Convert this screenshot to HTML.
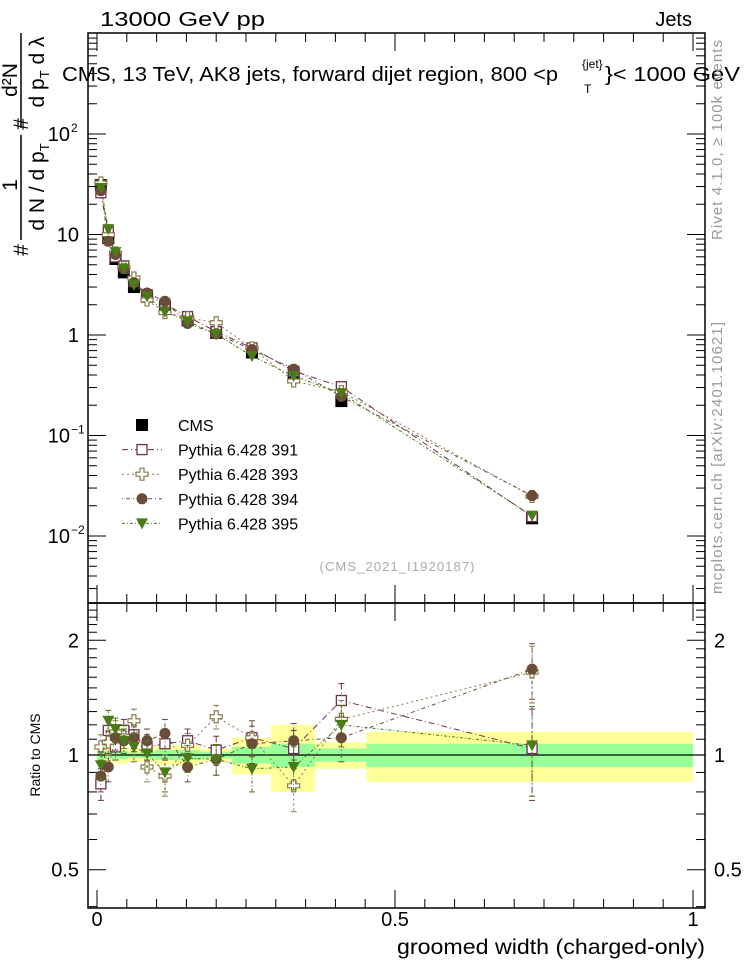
<!DOCTYPE html>
<html><head><meta charset="utf-8"><style>
body{margin:0;background:#fff;}
svg{display:block;font-family:"Liberation Sans",sans-serif;}
</style></head><body>
<svg id="c" width="746" height="972" viewBox="0 0 746 972">
<g id="bands"></g>
<g id="axes"></g>
<g id="marks"></g>
<text x="100" y="26" font-size="20" textLength="165" lengthAdjust="spacingAndGlyphs">13000 GeV pp</text>
<text x="692" y="26" font-size="20" text-anchor="end">Jets</text>
<text x="62" y="81" font-size="20" textLength="496" lengthAdjust="spacingAndGlyphs">CMS, 13 TeV, AK8 jets, forward dijet region, 800 &lt;p</text>
<text x="582" y="68" font-size="12">{jet}</text>
<text x="584" y="93" font-size="12">T</text>
<text x="605" y="81" font-size="20" textLength="135" lengthAdjust="spacingAndGlyphs">}&lt; 1000 GeV</text>
<g font-size="21">
<line x1="21" y1="33" x2="21" y2="128" stroke="#000" stroke-width="1.5"/>
<line x1="21" y1="135" x2="21" y2="240" stroke="#000" stroke-width="1.5"/>
<text transform="translate(17,80) rotate(-90)" text-anchor="middle">d²N</text>
<text transform="translate(44,72) rotate(-90)" text-anchor="middle">d p<tspan font-size="13" dy="5">T</tspan><tspan dy="-5"> d λ</tspan></text>
<text transform="translate(28,124) rotate(-90)" text-anchor="middle">#</text>
<text transform="translate(17,185) rotate(-90)" text-anchor="middle">1</text>
<text transform="translate(44,187) rotate(-90)" text-anchor="middle">d N / d p<tspan font-size="13" dy="5">T</tspan></text>
<text transform="translate(28,250) rotate(-90)" text-anchor="middle">#</text>
</g>
<text transform="translate(722,140) rotate(-90)" font-size="15" fill="#999" text-anchor="middle" textLength="200">Rivet 4.1.0, ≥ 100k events</text>
<text transform="translate(722,458) rotate(-90)" font-size="15" fill="#999" text-anchor="middle" textLength="272">mcplots.cern.ch [arXiv:2401.10621]</text>
<text x="397" y="571" font-size="13" fill="#aaa" text-anchor="middle" textLength="155">(CMS_2021_I1920187)</text>
<text transform="translate(40,755) rotate(-90)" font-size="14" text-anchor="middle">Ratio to CMS</text>
<text x="705" y="954" font-size="21" text-anchor="end" textLength="308" lengthAdjust="spacingAndGlyphs">groomed width (charged-only)</text>
<g id="legend"></g>
</svg>
<script>
const edges=[0,0.013,0.025,0.038,0.052,0.072,0.097,0.131,0.173,0.227,0.292,0.366,0.452,1];
const centers=[0.0065,0.019,0.031,0.045,0.062,0.084,0.114,0.152,0.2,0.26,0.33,0.41,0.73];
const cms=[31,9.2,5.7,4.2,3.0,2.4,1.9,1.4,1.05,0.67,0.42,0.22,0.015];
const r391=[0.84,1.16,1.05,1.16,1.13,1.05,1.07,1.09,1.03,1.11,1.04,1.39,1.04];
const r393=[1.05,1.08,1.15,1.12,1.23,0.93,0.88,1.06,1.26,1.11,0.83,1.24,1.65];
const r394=[0.88,0.93,1.11,1.09,1.11,1.09,1.14,0.93,0.975,1.07,1.09,1.11,1.68];
const r395=[0.94,1.23,1.17,1.09,1.05,1.01,0.90,0.98,0.975,0.92,0.93,1.2,1.06];
const mcErr=[0.08,0.08,0.08,0.08,0.09,0.08,0.1,0.08,0.09,0.12,0.12,0.15,0.28];
const yellow=[0.05,0.05,0.05,0.05,0.04,0.04,0.06,0.06,0.04,0.11,0.2,0.08,0.15];
const green=[0.025,0.025,0.025,0.025,0.015,0.02,0.03,0.03,0.02,0.05,0.07,0.04,0.07];
const series=[
 {name:"Pythia 6.428 391",r:r391,col:"#6e2f52",m:"sq",dash:"6,3,1,3"},
 {name:"Pythia 6.428 393",r:r393,col:"#8a7a4a",m:"cross",dash:"2,3"},
 {name:"Pythia 6.428 394",r:r394,col:"#6b4c38",m:"circ",dash:"1,3,4,3"},
 {name:"Pythia 6.428 395",r:r395,col:"#4b7a18",m:"tri",dash:"3,2,1,2"}];
const NS="http://www.w3.org/2000/svg";
const L=88,R=705,T=33,M=603,B=908;
const X=v=>97+596*v;
const Y=v=>335-100.5*Math.log10(v);
const YR=v=>755-381*Math.log10(v);
function mk(p,t,a){const e=document.createElementNS(NS,t);for(const k in a)e.setAttribute(k,a[k]);p.appendChild(e);return e;}
const ax=document.getElementById('axes'),bd=document.getElementById('bands'),mg=document.getElementById('marks'),lg=document.getElementById('legend');
for(let i=0;i<centers.length;i++){
 const x1=X(edges[i]),x2=X(edges[i+1]);
 const y=mk(bd,'rect',{x:x1,y:YR(1+yellow[i]),width:x2-x1,height:YR(1-yellow[i])-YR(1+yellow[i]),fill:'#ffff99'});
 
 const g=mk(bd,'rect',{x:x1,y:YR(1+green[i]),width:x2-x1,height:YR(1-green[i])-YR(1+green[i]),fill:'#99ff99'});
 
}
mk(bd,'line',{x1:L,x2:R,y1:YR(1),y2:YR(1),stroke:'#000','stroke-width':1.2});
mk(ax,'rect',{x:L,y:T,width:R-L,height:M-T,fill:'none',stroke:'#000','stroke-width':1.5});
mk(ax,'rect',{x:L,y:M,width:R-L,height:B-M,fill:'none',stroke:'#000','stroke-width':1.5});
for(let k=0;k<=20;k++){const v=k*0.05,x=X(v),len=(k%10==0)?18:9;
 for(const [y0,d] of [[M,-1],[B,-1],[T,1],[M,1]]){mk(ax,'line',{x1:x,x2:x,y1:y0,y2:y0+d*len,stroke:'#000'});}
}
const xt=[["0",0],["0.5",0.5],["1",1]];
xt.forEach(([s,v])=>{const t=mk(ax,'text',{x:X(v),y:926,'font-size':20,'text-anchor':'middle'});t.textContent=s;});
for(let e=-3;e<=2;e++)for(let m=1;m<10;m++){const v=m*Math.pow(10,e),y=Y(v);if(y<T||y>M)continue;const len=m==1?18:9;
 mk(ax,'line',{x1:L,x2:L+len,y1:y,y2:y,stroke:'#000'});mk(ax,'line',{x1:R,x2:R-len,y1:y,y2:y,stroke:'#000'});}
const yl=[[0.01,"10",-2],[0.1,"10",-1],[1,"1",null],[10,"10",null],[100,"10",2]];
yl.forEach(([v,s,ex])=>{const t=mk(ax,'text',{x:ex==null?79:70,y:Y(v)+7,'font-size':20,'text-anchor':'end'});t.textContent=s;
 if(ex!=null){const s2=mk(ax,'text',{x:71,y:Y(v)-2,'font-size':12});s2.textContent=ex==-1?"−1":ex==-2?"−2":ex;}});
for(let v=0.4;v<=2.5001;v+=0.1){const y=YR(v);const maj=Math.abs(v-0.5)<1e-6||Math.abs(v-1)<1e-6||Math.abs(v-2)<1e-6;const len=maj?18:9;
 mk(ax,'line',{x1:L,x2:L+len,y1:y,y2:y,stroke:'#000'});mk(ax,'line',{x1:R,x2:R-len,y1:y,y2:y,stroke:'#000'});}
[[0.5,"0.5"],[1,"1"],[2,"2"]].forEach(([v,s])=>{const t=mk(ax,'text',{x:79,y:YR(v)+7,'font-size':20,'text-anchor':'end'});t.textContent=s;
 const t2=mk(ax,'text',{x:714,y:YR(v)+7,'font-size':20});t2.textContent=s;});
function marker(p,type,x,y,col){
 if(type=="sq")return mk(p,'rect',{x:x-5,y:y-5,width:10,height:10,fill:'#fff',stroke:col,'stroke-width':1.3});
 if(type=="cross")return mk(p,'path',{d:`M${x-2},${y-6}h4v4h4v4h-4v4h-4v-4h-4v-4h4z`,fill:'#fff',stroke:col,'stroke-width':1.2});
 if(type=="circ")return mk(p,'circle',{cx:x,cy:y,r:5.5,fill:col});
 if(type=="tri")return mk(p,'path',{d:`M${x-6},${y-5}h12l-6,11z`,fill:col});
 return mk(p,'rect',{x:x-6,y:y-6,width:12,height:12,fill:'#000'});
}
series.forEach(s=>{
 const g=mk(mg,'g',{});
 const top=centers.map((c,i)=>X(c)+','+Y(cms[i]*s.r[i])).join(' ');
 mk(g,'polyline',{points:top,fill:'none',stroke:s.col,'stroke-dasharray':s.dash,'stroke-width':1});
 const bot=centers.map((c,i)=>X(c)+','+YR(s.r[i])).join(' ');
 mk(g,'polyline',{points:bot,fill:'none',stroke:s.col,'stroke-dasharray':s.dash,'stroke-width':1});
 centers.forEach((c,i)=>{const x=X(c);
  const y1=YR(s.r[i]+mcErr[i]),y2=YR(Math.max(0.3,s.r[i]-mcErr[i]));
  mk(g,'line',{x1:x,x2:x,y1:y1,y2:y2,stroke:s.col,'stroke-dasharray':s.dash});
  mk(g,'line',{x1:x-3,x2:x+3,y1:y1,y2:y1,stroke:s.col});mk(g,'line',{x1:x-3,x2:x+3,y1:y2,y2:y2,stroke:s.col});
  const m1=marker(g,s.m,x,YR(s.r[i]),s.col);
 });
});
const cg=mk(mg,'g',{});
mg.insertBefore(cg,mg.firstChild);
centers.forEach((c,i)=>{const m=marker(cg,'cms',X(c),Y(cms[i]));});
series.forEach(s=>{const g=mk(mg,'g',{});
 centers.forEach((c,i)=>{const m=marker(g,s.m,X(c),Y(cms[i]*s.r[i]),s.col);});});
const ents=[{name:"CMS",m:"cms",col:"#000"}].concat(series);
ents.forEach((e,i)=>{const y=425+24.6*i;const g=mk(lg,'g',{});
 if(e.m!="cms")mk(g,'line',{x1:122,x2:162,y1:y,y2:y,stroke:e.col,'stroke-dasharray':e.dash});
 marker(g,e.m,142,y,e.col);
 const t=mk(g,'text',{x:178,y:y+6,'font-size':16});t.textContent=e.name;});
</script>
</body></html>
